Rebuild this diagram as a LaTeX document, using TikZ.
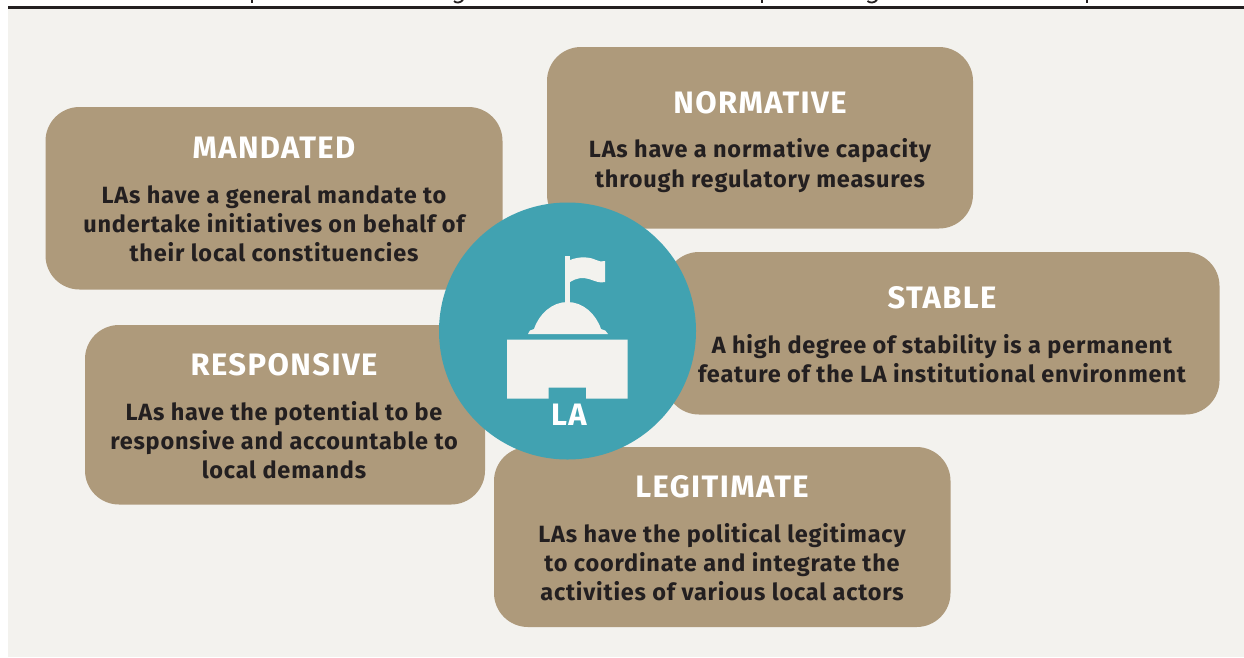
\documentclass[tikz,border=0pt]{standalone}
\usepackage{fontspec}
\setmainfont{Fira Sans}[BoldFont={Fira Sans Bold}]
\newfontfamily\ttlfont{Fira Sans Bold}[LetterSpace=4.5]
\newfontfamily\bodyfont{Fira Sans Bold}[LetterSpace=3.4]
\definecolor{bgc}{HTML}{F3F2EE}
\definecolor{tan}{HTML}{AE9A7B}
\definecolor{teal}{HTML}{41A2B1}
\definecolor{ink}{HTML}{231F20}
\tikzset{
 card/.style={fill=tan,draw=none,rounded corners=34pt},
 ttl/.style={text=white,font=\ttlfont\fontsize{31}{31}\selectfont,anchor=base,inner sep=0pt},
 bodytxt/.style={text=ink,font=\bodyfont\fontsize{23.5}{29}\selectfont,align=center,anchor=base,inner sep=0pt},
 iconpart/.style={fill=bgc,draw=none},
 clipped/.style={draw=ink,line width=1.8pt}
}
\begin{document}
\begin{tikzpicture}[x=1pt,y=-1pt]
\useasboundingbox (0,0) rectangle (1244,657);
\fill[white] (0,0) rectangle (1244,657);
% descenders of the cut-off line above the rule
\draw[clipped] (252,0) -- (252,3.4);
\draw[clipped] (762,0) -- (762,3.4);
\draw[clipped] (1087,0) -- (1087,3.4);
\draw[clipped] (454,1) .. controls (456,3.2) and (460,3.2) .. (463,0);
\draw[clipped] (867.5,1) .. controls (870,3.2) and (874,3.2) .. (877,0);
\fill[bgc] (8,9) rectangle (1244,657);
\fill[ink] (8,6.2) rectangle (1244,8.6);
% boxes
\fill[card] (547,47) rectangle (973,228.5);
\fill[card] (45.5,107) rectangle (502.5,289.5);
\fill[card] (665,252) rectangle (1219.5,414.5);
\fill[card] (85,325) rectangle (485,504.5);
\fill[card] (494,447) rectangle (950.5,627);
% titles and text
\node[ttl] (t1) at (760,113) {NORMATIVE};
\node[bodytxt] (b1a) at (760,157.5) {LAs have a normative capacity};
\node[bodytxt] (b1b) at (760,187.5) {through regulatory measures};
\node[ttl] (t2) at (274,158) {MANDATED};
\node[bodytxt] (b2a) at (274,203.5) {LAs have a general mandate to};
\node[bodytxt] (b2b) at (274,232.5) {undertake initiatives on behalf of};
\node[bodytxt] (b2c) at (274,261.5) {their local constituencies};
\node[ttl] (t3) at (942,308) {STABLE};
\node[bodytxt] (b3a) at (942,353.5) {A high degree of stability is a permanent};
\node[bodytxt] (b3b) at (942,382.5) {feature of the LA institutional environment};
\node[ttl] (t4) at (284,375) {RESPONSIVE};
\node[bodytxt] (b4a) at (284,420.5) {LAs have the potential to be};
\node[bodytxt] (b4b) at (284,449.5) {responsive and accountable to};
\node[bodytxt] (b4c) at (284,478.5) {local demands};
\node[ttl] (t5) at (722,497) {LEGITIMATE};
\node[bodytxt] (b5a) at (722,542.5) {LAs have the political legitimacy};
\node[bodytxt] (b5b) at (722,571.5) {to coordinate and integrate the};
\node[bodytxt] (b5c) at (722,600.5) {activities of various local actors};
% circle
\fill[teal] (567.5,331) circle (128.5);
% icon: building
\fill[iconpart] (507,339.5) -- (627.5,339.5) -- (627.5,398.5) -- (586,398.5) -- (586,387.5) -- (548.5,387.5) -- (548.5,398.5) -- (507,398.5) -- cycle;
% dome
\fill[iconpart] (528,334) .. controls (528,331) and (531,329.5) .. (534,329) .. controls (539,314) and (552,302) .. (567.5,302) .. controls (583,302) and (596,314) .. (601,329) .. controls (604,329.5) and (607,331) .. (608,334) -- cycle;
% pole and flag
\fill[iconpart] (565,256) rectangle (570,304);
\fill[iconpart] (570,260) .. controls (580,256) and (590,257) .. (596,260) .. controls (599,261.5) and (602,262) .. (605,261) -- (605,282) .. controls (600,283.5) and (595,281) .. (589,279) .. controls (583,277) and (576,278) .. (570,282) -- cycle;
\node[ttl] (la) at (569,425) {LA};
\end{tikzpicture}
\end{document}
